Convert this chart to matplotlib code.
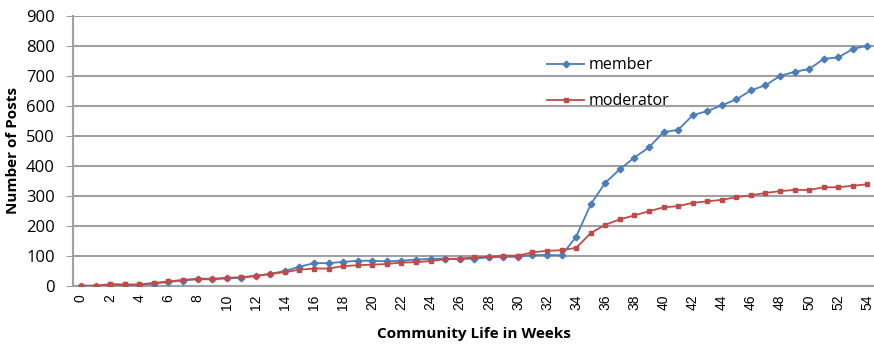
import numpy as np
import matplotlib.pyplot as plt
from matplotlib.lines import Line2D

weeks = np.arange(0, 55)

member = [0, 0, 2, 2, 3, 8, 13, 18, 22, 22,
          25, 27, 33, 40, 50, 64, 76, 76, 80, 84,
          84, 82, 84, 88, 90, 91, 90, 91, 95, 97,
          97, 103, 103, 102, 164, 272, 344, 389, 428, 462,
          513, 520, 569, 583, 602, 622, 652, 669, 700, 714,
          723, 757, 762, 790, 801]

moderator = [1, 1, 6, 5, 5, 10, 15, 20, 24, 24,
             27, 29, 34, 40, 46, 54, 58, 58, 66, 69,
             71, 73, 78, 79, 83, 89, 91, 95, 97, 101,
             101, 112, 117, 119, 127, 176, 204, 222, 235, 249,
             262, 266, 277, 282, 287, 296, 302, 310, 316, 320,
             320, 329, 329, 334, 339]

xticks = list(range(0, 55, 2))
yticks = list(range(0, 901, 100))

BLUE = "#4a7ebb"
RED = "#be4b48"
GRID = "#a0a0a0"

plt.rcParams["font.family"] = ["Open Sans", "DejaVu Sans"]

fig = plt.figure(figsize=(8.74, 3.47), dpi=100)
ax = fig.add_axes([0.0835, 0.176, 0.9165, 0.778])

ax.plot(weeks, member, color=BLUE, lw=1.3, marker="D", ms=3.4,
        mfc=BLUE, mec=BLUE, zorder=3)
ax.plot(weeks, moderator, color=RED, lw=1.3, marker="s", ms=3.4,
        mfc=RED, mec=RED, zorder=3)

ax.set_xlim(-0.55, 54.45)
ax.set_ylim(0, 900)
ax.set_yticks(yticks)
ax.set_xticks(xticks)
ax.set_xticklabels([str(t) for t in xticks], rotation=90,
                   family="Liberation Sans", fontsize=10)
ax.tick_params(axis="y", labelsize=12, length=5, color=GRID, pad=8)
ax.tick_params(axis="x", length=0, pad=6)

ax.grid(axis="y", color=GRID, lw=1.5)
ax.set_axisbelow(True)
for side in ("top", "right"):
    ax.spines[side].set_visible(False)
for side in ("left", "bottom"):
    ax.spines[side].set_color(GRID)
    ax.spines[side].set_linewidth(1.5)

ax.set_ylabel("Number of Posts", fontsize=11, fontweight="bold", labelpad=4)
ax.set_xlabel("Community Life in Weeks", fontsize=11, fontweight="bold", labelpad=12)

handles = [
    Line2D([], [], color=BLUE, lw=1.3, marker="D", ms=3.4, label="member"),
    Line2D([], [], color=RED, lw=1.3, marker="s", ms=3.4, label="moderator"),
]
ax.legend(handles=handles, loc="upper left", bbox_to_anchor=(0.574, 0.90),
          frameon=False, fontsize=11.5, handlelength=2.3, handletextpad=0.3,
          labelspacing=1.25)

fig.savefig("out.png", dpi=100)
